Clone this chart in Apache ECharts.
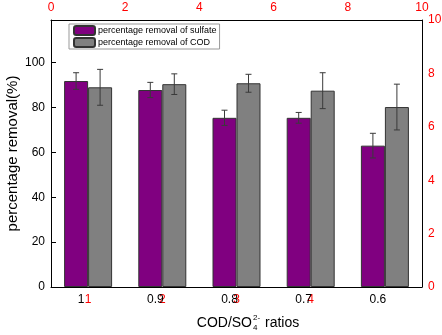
<!DOCTYPE html>
<html>
<head>
<meta charset="utf-8">
<script src="https://cdn.jsdelivr.net/npm/echarts@6/dist/echarts.min.js"></script>
<style>
  html, body { margin: 0; padding: 0; background: #fff; }
  #chart { width: 442px; height: 335px; }
</style>
</head>
<body>
<div id="chart"></div>
<script>
// COD/SO4 ratios on the x axis
const ratios = ['1', '0.9', '0.8', '0.7', '0.6'];
// red secondary labels that show through under the ratio labels
const redLabels = ['1', '2', '3', '4', ''];

const sulfateRemoval = [91.8, 87.8, 75.4, 75.4, 63.0];
const sulfateErr = [3.7, 3.4, 3.4, 2.4, 5.5];
const codRemoval = [89.0, 90.4, 90.8, 87.5, 80.2];
const codErr = [8.0, 4.6, 4.0, 8.0, 10.2];

const FONT = "'Liberation Sans', Arial, sans-serif";
const BAR_W = 24;

const chart = echarts.init(document.getElementById('chart'));

// error bars drawn next to each bar (offset = half a bar width)
function errorBars(offset) {
  return function (params, api) {
    const i = api.value(0), v = api.value(1), e = api.value(2);
    const x = api.coord([i, v])[0] + offset;
    const yTop = api.coord([i, v + e])[1];
    const yBot = api.coord([i, v - e])[1];
    const st = { stroke: '#3a3a3a', lineWidth: 1 };
    return {
      type: 'group',
      children: [
        { type: 'line', shape: { x1: x, y1: yTop, x2: x, y2: yBot }, style: st },
        { type: 'line', shape: { x1: x - 3, y1: yTop, x2: x + 3, y2: yTop }, style: st },
        { type: 'line', shape: { x1: x - 3, y1: yBot, x2: x + 3, y2: yBot }, style: st }
      ]
    };
  };
}

const option = {
  animation: false,
  grid: { left: 51, right: 20, top: 20, bottom: 48, containLabel: false, outerBoundsMode: 'none' },
  legend: {
    orient: 'vertical',
    left: 69,
    top: 24,
    itemWidth: 21,
    itemHeight: 9,
    itemGap: 1,
    padding: [1, 3, 1, 4],
    borderColor: '#999',
    borderWidth: 1,
    data: ['percentage removal of sulfate', 'percentage removal of COD'],
    textStyle: { fontFamily: FONT, fontSize: 9, color: '#000', padding: [0, 0, 0, -2] }
  },
  // x axis title with SO4 2- written as stacked super/subscript
  graphic: [
    { type: 'text', x: 252, y: 323, style: { text: 'COD/SO', font: '14px ' + FONT, fill: '#000', align: 'right', verticalAlign: 'middle' } },
    { type: 'text', x: 253, y: 318, style: { text: '2-', font: '8px ' + FONT, fill: '#000', align: 'left', verticalAlign: 'middle' } },
    { type: 'text', x: 253, y: 328, style: { text: '4', font: '8px ' + FONT, fill: '#000', align: 'left', verticalAlign: 'middle' } },
    { type: 'text', x: 265, y: 323, style: { text: 'ratios', font: '14px ' + FONT, fill: '#000', align: 'left', verticalAlign: 'middle' } }
  ],
  xAxis: [
    {
      type: 'category',
      data: ratios,
      position: 'bottom',
      z: 5,
      axisLine: { lineStyle: { color: '#000', width: 1 } },
      axisTick: { show: false },
      axisLabel: { fontFamily: FONT, fontSize: 12, color: '#000', margin: 7, padding: [0, 14, 0, 0] }
    },
    {
      type: 'category',
      data: redLabels,
      position: 'bottom',
      z: 2,
      axisLine: { show: false },
      axisTick: { show: false },
      axisLabel: { fontFamily: FONT, fontSize: 12, color: '#ff0000', margin: 7 }
    },
    {
      type: 'value',
      position: 'top',
      min: 0,
      max: 10,
      interval: 2,
      axisLine: { show: true, lineStyle: { color: '#000', width: 1 } },
      axisTick: { show: false },
      splitLine: { show: false },
      axisLabel: { fontFamily: FONT, fontSize: 12, color: '#ff0000', margin: 6 }
    }
  ],
  yAxis: [
    {
      type: 'value',
      min: 0,
      max: 119,
      interval: 20,
      name: 'percentage removal(%)',
      nameLocation: 'middle',
      nameGap: 31,
      nameMoveOverlap: false,
      nameTextStyle: { fontFamily: FONT, fontSize: 15, color: '#000' },
      axisLine: { show: true, lineStyle: { color: '#000', width: 1 } },
      axisTick: { show: true, inside: true, length: 5, lineStyle: { color: '#000' } },
      splitLine: { show: false },
      axisLabel: {
        fontFamily: FONT, fontSize: 12, color: '#000', margin: 6,
        formatter: v => (v % 20 === 0 ? String(v) : '')
      }
    },
    {
      type: 'value',
      position: 'right',
      min: 0,
      max: 10,
      interval: 2,
      axisLine: { show: true, lineStyle: { color: '#000', width: 1 } },
      axisTick: { show: false },
      splitLine: { show: false },
      axisLabel: { fontFamily: FONT, fontSize: 12, color: '#ff0000', margin: 6 }
    }
  ],
  series: [
    {
      name: 'percentage removal of sulfate',
      type: 'bar',
      barWidth: BAR_W,
      barGap: '0%',
      data: sulfateRemoval,
      itemStyle: { color: '#800080', borderColor: '#333', borderWidth: 1 }
    },
    {
      name: 'percentage removal of COD',
      type: 'bar',
      barWidth: BAR_W,
      barGap: '0%',
      data: codRemoval,
      itemStyle: { color: '#808080', borderColor: '#333', borderWidth: 1 }
    },
    {
      type: 'custom',
      z: 10,
      renderItem: errorBars(-BAR_W / 2),
      data: sulfateRemoval.map((v, i) => [i, v, sulfateErr[i]])
    },
    {
      type: 'custom',
      z: 10,
      renderItem: errorBars(BAR_W / 2),
      data: codRemoval.map((v, i) => [i, v, codErr[i]])
    }
  ]
};

chart.setOption(option);
</script>
</body>
</html>
